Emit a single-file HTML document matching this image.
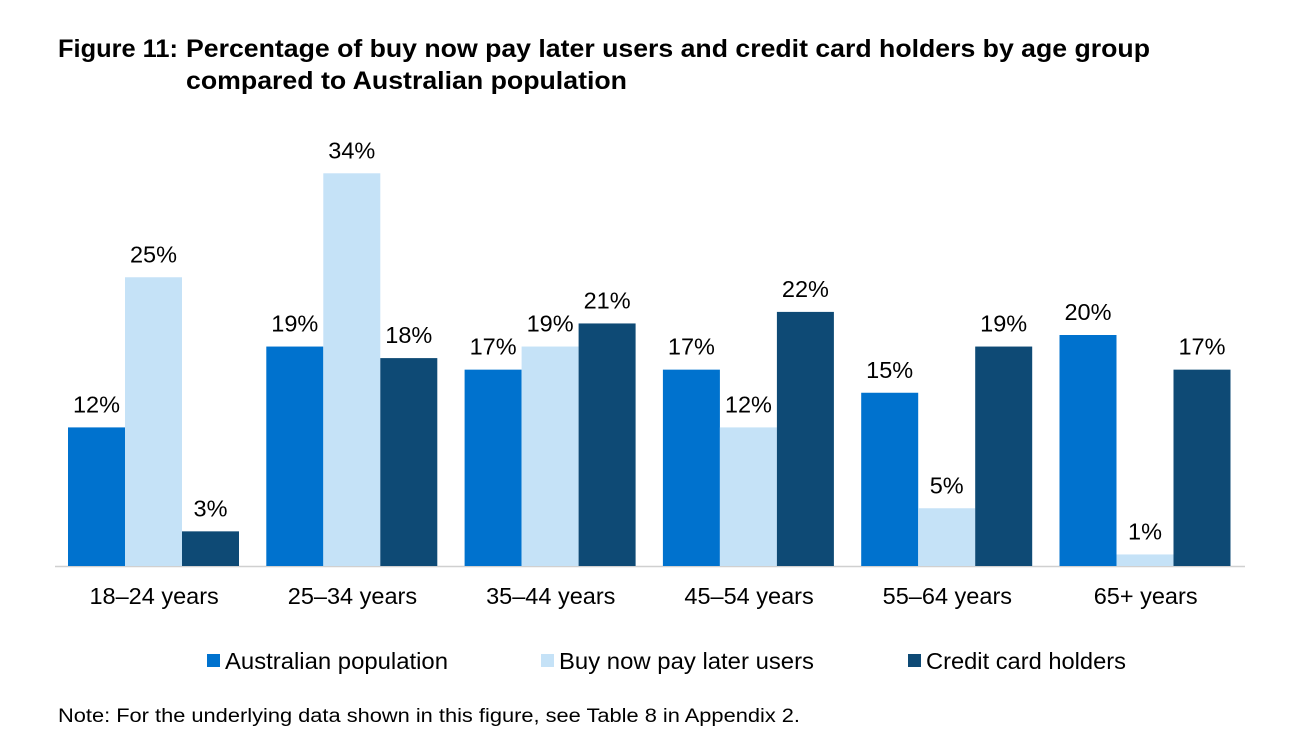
<!DOCTYPE html>
<html><head><meta charset="utf-8"><style>
body{margin:0;background:#fff;width:1299px;height:746px;overflow:hidden;font-family:"Liberation Sans",Arial,sans-serif}
</style></head><body>
<svg width="1299" height="746" xmlns="http://www.w3.org/2000/svg">
<g font-weight="bold" font-size="25" fill="#000">
<text x="58" y="57" textLength="120" lengthAdjust="spacingAndGlyphs">Figure 11:</text>
<text x="186" y="57" textLength="964" lengthAdjust="spacingAndGlyphs">Percentage of buy now pay later users and credit card holders by age group</text>
<text x="186" y="89" textLength="441" lengthAdjust="spacingAndGlyphs">compared to Australian population</text>
</g>
<line x1="55" y1="566.5" x2="1245" y2="566.5" stroke="#d0d0d0" stroke-width="1.5"/>
<g id="bars"></g>
<g id="labels"></g>
<g font-size="23.5" fill="#000">
<rect x="207" y="654" width="13" height="13" fill="#0072CE"/>
<text x="225" y="669" textLength="223" lengthAdjust="spacingAndGlyphs">Australian population</text>
<rect x="541" y="654" width="13" height="13" fill="#C5E2F7"/>
<text x="559" y="669" textLength="255" lengthAdjust="spacingAndGlyphs">Buy now pay later users</text>
<rect x="908" y="654" width="13" height="13" fill="#0E4A75"/>
<text x="926" y="669" textLength="200" lengthAdjust="spacingAndGlyphs">Credit card holders</text>
</g>
<text x="58" y="722" font-size="19" fill="#000" textLength="742" lengthAdjust="spacingAndGlyphs">Note: For the underlying data shown in this figure, see Table 8 in Appendix 2.</text>
</svg>
<script>
const categories=["18–24 years","25–34 years","35–44 years","45–54 years","55–64 years","65+ years"];
const australian=[12,19,17,17,15,20];
const bnpl=[25,34,19,12,5,1];
const credit=[3,18,21,22,19,17];
const seriesNames=["australian","bnpl","credit"];
const colors=["#0072CE","#C5E2F7","#0E4A75"];
const NS="http://www.w3.org/2000/svg";
const base=566, pxPer=11.55, x0=55, gw=198.3, off=13, bw=57;
const y=v=>base-v*pxPer;
const bars=document.getElementById('bars'), labels=document.getElementById('labels');
const series=[australian,bnpl,credit];
categories.forEach((c,i)=>{
  series.forEach((s,j)=>{
    const bx=x0+i*gw+off+j*bw;
    const r=document.createElementNS(NS,'rect');
    r.setAttribute('x',bx);r.setAttribute('y',y(s[i]));r.setAttribute('width',bw);r.setAttribute('height',base-y(s[i]));r.setAttribute('fill',colors[j]);
    
    
    bars.appendChild(r);
    const t=document.createElementNS(NS,'text');
    t.setAttribute('x',bx+bw/2);t.setAttribute('y',y(s[i])-15);t.setAttribute('text-anchor','middle');t.setAttribute('font-size','23.5');
    t.textContent=s[i]+'%';
    
    
    labels.appendChild(t);
  });
  const t=document.createElementNS(NS,'text');
  t.setAttribute('x',x0+i*gw+gw/2);t.setAttribute('y',604);t.setAttribute('text-anchor','middle');t.setAttribute('font-size','23.5');
  t.textContent=c;
  
  
  labels.appendChild(t);
});
</script>
</body></html>
